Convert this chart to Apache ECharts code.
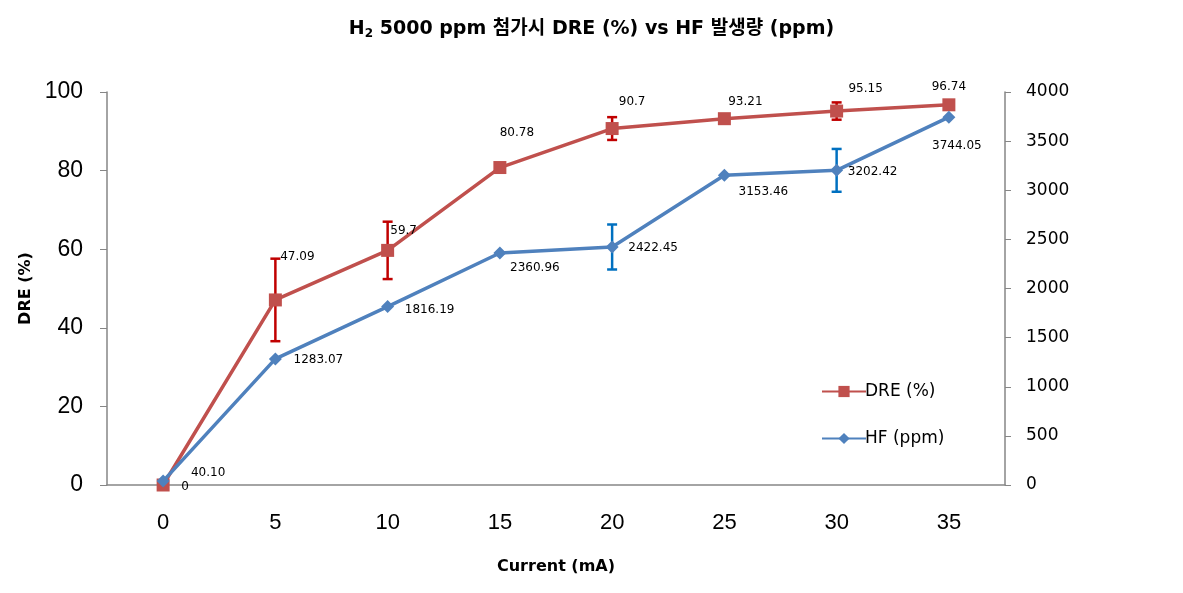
<!DOCTYPE html>
<html>
<head>
<meta charset="utf-8">
<script src="https://cdn.jsdelivr.net/npm/echarts@6/dist/echarts.min.js"></script>
<style>
html,body{margin:0;padding:0;background:#fff;}
#chart{width:1183px;height:593px;}
</style>
</head>
<body>
<div id="chart"></div>
<script>
// ---- data ----
const categories = ['0', '5', '10', '15', '20', '25', '30', '35'];
const dreValues = [0, 47.09, 59.7, 80.78, 90.7, 93.21, 95.15, 96.74];
const dreErrors = [0, 10.5, 7.3, 0, 2.9, 0, 2.2, 0];
const hfValues = [40.10, 1283.07, 1816.19, 2360.96, 2422.45, 3153.46, 3202.42, 3744.05];
const hfErrors = [0, 0, 0, 0, 229, 0, 218, 0];
const leftTicks = { min: 0, max: 100, interval: 20 };
const rightTicks = { min: 0, max: 4000, interval: 500 };

// ---- label placement (pixel offsets from each point) ----
const dreLabelOffsets = [[22, 2], [22, -43], [16, -20], [17, -35], [20, -27], [21, -17], [29, -22], [0, -18]];
const hfLabelOffsets = [[45, -8], [43, 1], [42, 3], [35, 15], [41, 1], [39, 17], [36, 2], [8, 29]];

const RED = '#C0504D', BLUE = '#4F81BD';
const RED_ERR = '#C00000', BLUE_ERR = '#0070C0';
const AXIS = '#868686';

function labelled(values, offsets, fmt) {
  return values.map((v, i) => ({
    value: v,
    label: { show: true, position: 'inside', offset: offsets[i], formatter: fmt(v) }
  }));
}

function errorSeries(values, errors, yAxisIndex, color) {
  const data = values.map((v, i) => [i, v, errors[i]]).filter(d => d[2] > 0);
  return {
    type: 'custom',
    yAxisIndex: yAxisIndex,
    z: 1,
    silent: true,
    data: data,
    renderItem: function (params, api) {
      const x = api.value(0), v = api.value(1), e = api.value(2);
      const hi = api.coord([x, v + e]);
      const lo = api.coord([x, v - e]);
      const cw = 5;
      const style = { stroke: color, lineWidth: 2.5 };
      return {
        type: 'group',
        children: [
          { type: 'line', shape: { x1: hi[0], y1: hi[1], x2: lo[0], y2: lo[1] }, style: style },
          { type: 'line', shape: { x1: hi[0] - cw, y1: hi[1], x2: hi[0] + cw, y2: hi[1] }, style: style },
          { type: 'line', shape: { x1: lo[0] - cw, y1: lo[1], x2: lo[0] + cw, y2: lo[1] }, style: style }
        ]
      };
    }
  };
}

const chart = echarts.init(document.getElementById('chart'), null, { renderer: 'canvas' });
const labelFont = { fontFamily: 'DejaVu Sans', fontSize: 12, color: '#000' };
const titleFont = 'DejaVu Sans, Noto Sans CJK KR';

chart.setOption({
  animation: false,
  backgroundColor: '#fff',
  title: {
    text: 'H{sub|2} 5000 ppm 첨가시 DRE (%) vs HF 발생량 (ppm)',
    left: 'center',
    top: 14,
    textStyle: {
      fontFamily: titleFont,
      fontWeight: 'bold',
      fontSize: 19,
      color: '#000',
      rich: {
        sub: { fontFamily: titleFont, fontWeight: 'bold', fontSize: 12, color: '#000', verticalAlign: 'bottom', padding: [9, 0, 0, 0] }
      }
    }
  },
  legend: {
    orient: 'vertical',
    left: 816,
    top: 378,
    itemWidth: 44,
    itemHeight: 14,
    itemGap: 30,
    textStyle: { fontFamily: 'DejaVu Sans', fontSize: 17, color: '#000', padding: [0, 0, 0, -6] },
    data: ['DRE (%)', 'HF (ppm)']
  },
  grid: { left: 107, right: 178, top: 92, bottom: 108, containLabel: false },
  xAxis: {
    type: 'category',
    data: categories,
    boundaryGap: true,
    name: 'Current (mA)',
    nameLocation: 'middle',
    nameGap: 74,
    nameTextStyle: { fontFamily: 'DejaVu Sans', fontWeight: 'bold', fontSize: 16, color: '#000' },
    axisLine: { lineStyle: { color: AXIS, width: 1.5 } },
    axisTick: { show: false },
    axisLabel: { fontFamily: 'Liberation Sans', fontSize: 22, color: '#000', margin: 27 },
    splitLine: { show: false }
  },
  yAxis: [
    {
      type: 'value',
      min: leftTicks.min, max: leftTicks.max, interval: leftTicks.interval,
      name: 'DRE (%)',
      nameLocation: 'middle',
      nameGap: 72,
      nameRotate: 90,
      nameTextStyle: { fontFamily: 'DejaVu Sans', fontWeight: 'bold', fontSize: 16, color: '#000' },
      axisLine: { show: true, lineStyle: { color: AXIS, width: 1.5 } },
      axisTick: { show: true, length: 7, lineStyle: { color: AXIS } },
      axisLabel: { fontFamily: 'Liberation Sans', fontSize: 23, color: '#000', margin: 24 },
      splitLine: { show: false }
    },
    {
      type: 'value',
      position: 'right',
      min: rightTicks.min, max: rightTicks.max, interval: rightTicks.interval,
      axisLine: { show: true, lineStyle: { color: AXIS, width: 1.5 } },
      axisTick: { show: true, length: 6, lineStyle: { color: AXIS } },
      axisLabel: { fontFamily: 'DejaVu Sans', fontSize: 17, color: '#000', margin: 21, formatter: v => String(v) },
      splitLine: { show: false }
    }
  ],
  series: [
    errorSeries(dreValues, dreErrors, 0, RED_ERR),
    errorSeries(hfValues, hfErrors, 1, BLUE_ERR),
    {
      name: 'DRE (%)',
      type: 'line',
      yAxisIndex: 0,
      z: 3,
      symbol: 'rect',
      symbolSize: 13,
      lineStyle: { color: RED, width: 3.5 },
      itemStyle: { color: RED },
      label: labelFont,
      data: labelled(dreValues, dreLabelOffsets, v => String(v))
    },
    {
      name: 'HF (ppm)',
      type: 'line',
      yAxisIndex: 1,
      z: 4,
      symbol: 'diamond',
      symbolSize: 13,
      lineStyle: { color: BLUE, width: 3.5 },
      itemStyle: { color: BLUE },
      label: labelFont,
      data: labelled(hfValues, hfLabelOffsets, v => v.toFixed(2))
    }
  ]
});
</script>
</body>
</html>
